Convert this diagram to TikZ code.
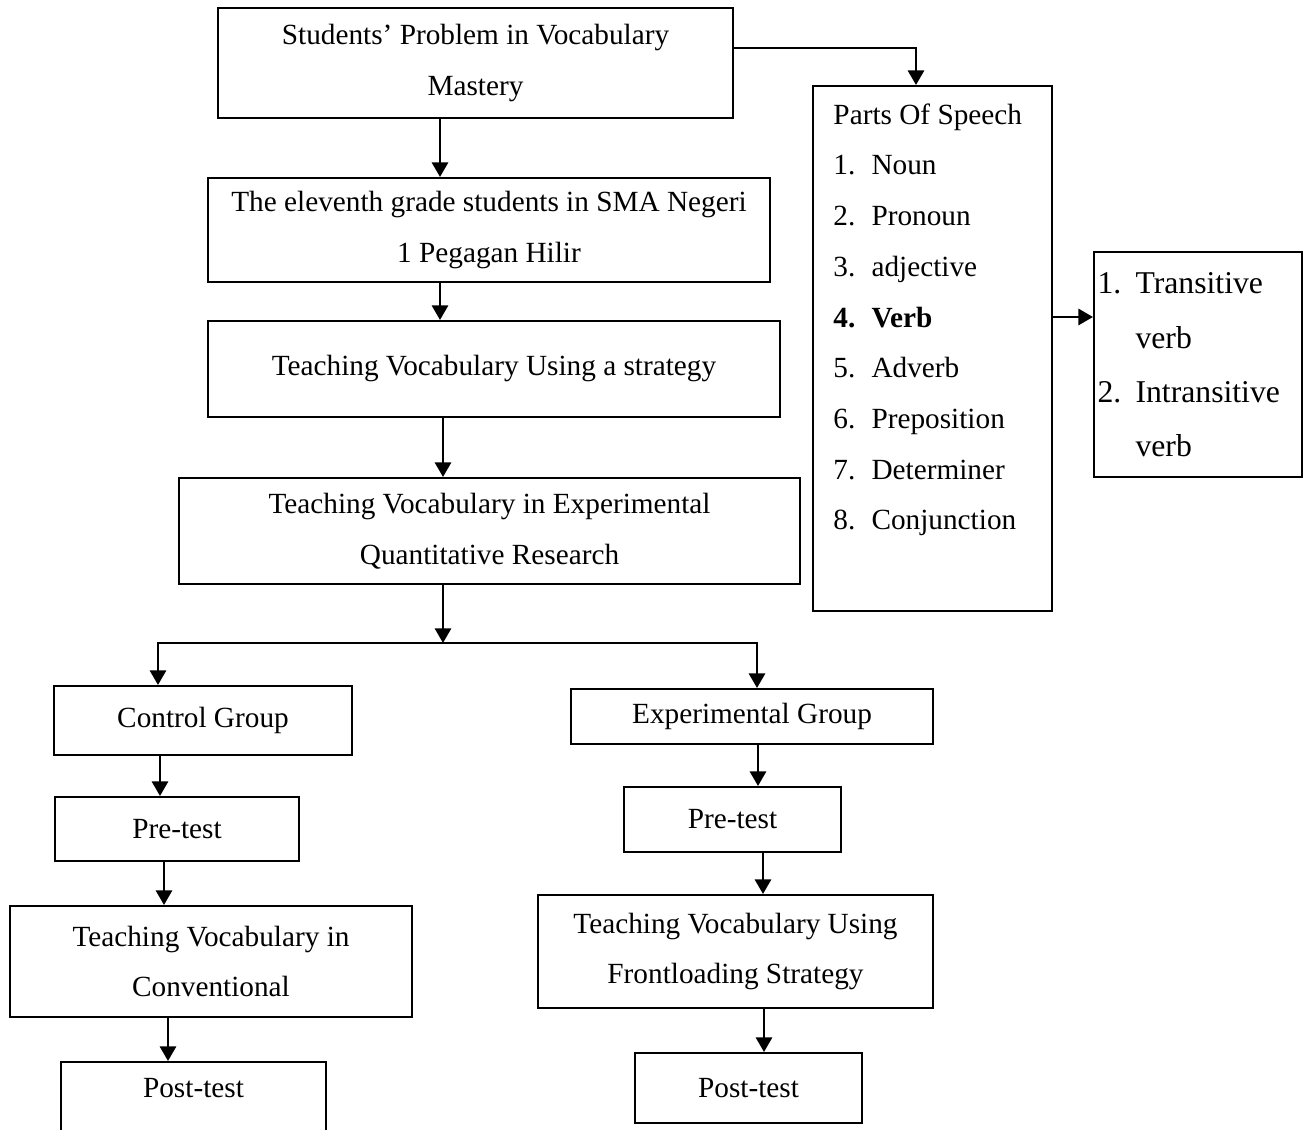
\documentclass[tikz,border=0pt]{standalone}
\usepackage{fontspec}
\setmainfont{Liberation Serif}
\usepackage{tikz}
\usetikzlibrary{arrows.meta}
\newcommand{\lnum}[1]{\makebox[15.6pt][l]{#1}}
\tikzset{
  box/.style 2 args={draw,line width=0.8pt,minimum width=#1*0.41pt,minimum height=#2*0.41pt,align=center,inner sep=0pt},
  link/.style={->,line width=1.1pt}}

\begin{document}
\begin{tikzpicture}[x=0.41pt,y=-0.41pt,font=\fontsize{12}{20.8}\selectfont,>={Triangle[length=6pt,width=6.6pt]}]
\useasboundingbox (0,0) rectangle (1303,1130);
% main column
\node[box={515}{110}](b1)at(475.5,63){Students' Problem in Vocabulary\\ Mastery};
\node[box={562}{104}](b2)at(489,230){The eleventh grade students in SMA Negeri\\ 1 Pegagan Hilir};
\node[box={572}{96}](b3)at(494,369){Teaching Vocabulary Using a strategy};
\node[box={621}{106}](b4)at(489.5,531){Teaching Vocabulary in Experimental\\ Quantitative Research};
% parts of speech
\node[box={239}{525}](pos)at(932.5,348.5){};
\node[anchor=base west,align=left,inner sep=0pt](posl)at(833,530){Parts Of Speech\\ \lnum{1.}Noun\\ \lnum{2.}Pronoun\\ \lnum{3.}adjective\\ \textbf{\lnum{4.}Verb}\\ \lnum{5.}Adverb\\ \lnum{6.}Preposition\\ \lnum{7.}Determiner\\ \lnum{8.}Conjunction};
\node[box={208}{225}](verb)at(1198,364.5){};
\node[anchor=base west,align=left,inner sep=0pt,font=\fontsize{13}{22.3}\selectfont](verbl)at(1097,457){\lnum{1.}Transitive\\ \lnum{}verb\\ \lnum{2.}Intransitive\\ \lnum{}verb};
% control group
\node[box={298}{69}](cg)at(203,720.5){Control Group};
\node[box={244}{64}](pl)at(177,829){Pre-test};
\node[box={402}{111}](tc)at(211,961.5){Teaching Vocabulary in\\ Conventional};
\node[box={265}{118}](ptl)at(193.5,1121){Post-test\\ \strut};
% experimental group
\node[box={362}{55}](eg)at(752,716.5){Experimental Group};
\node[box={217}{65}](pr)at(732.5,819.5){Pre-test};
\node[box={395}{113}](tf)at(735.5,951.5){Teaching Vocabulary Using\\ Frontloading Strategy};
\node[box={227}{70}](ptr)at(748.5,1088){Post-test};
\coordinate(split)at(443,643);
\draw[link](b1.east |- 0,48) -| (pos.north -| 916,0);
\draw[link](pos.east |- 0,317) -- (verb.west |- 0,317);
\foreach \a/\b/\x in {b1/b2/440,b2/b3/440,b3/b4/443,cg/pl/160,pl/tc/164,tc/ptl/168,eg/pr/758,pr/tf/763,tf/ptr/764}
  \draw[link](\a.south -| \x,0) -- (\b.north -| \x,0);
\draw[link](b4.south -| split) -- (split);
\draw[link](split) -| (cg.north -| 158,0);
\draw[link](split) -| (eg.north -| 757,0);
\end{tikzpicture}
\end{document}
